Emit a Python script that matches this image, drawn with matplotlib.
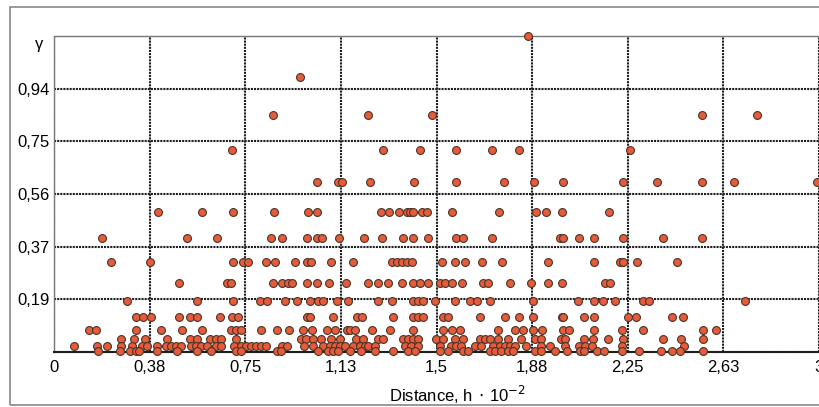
import matplotlib.pyplot as plt
from matplotlib.patches import Rectangle

plt.rcParams['font.family'] = ['Liberation Sans', 'DejaVu Sans']

# semivariance levels (gamma) and distances of the points on each level
lev_1125 = [1.857]
lev_098 = [0.964]
lev_0845 = [0.858, 1.230, 1.481, 2.543, 2.755]
lev_072 = [0.697, 1.289, 1.434, 1.575, 1.716, 1.822, 2.257]
lev_0605 = [1.031, 1.113, 1.129, 1.238, 1.411, 1.575, 1.763, 1.881, 1.995,
            2.230, 2.363, 2.543, 2.665, 2.994]
lev_05 = [0.408, 0.580, 0.701, 0.862, 0.995, 1.031, 1.281, 1.313, 1.352,
          1.383, 1.395, 1.407, 1.442, 1.462, 1.560, 1.744, 1.889, 1.928,
          1.991, 2.175]
lev_0405 = [0.188, 0.521, 0.639, 0.850, 0.893, 0.991, 1.031, 1.050, 1.117,
            1.215, 1.285, 1.368, 1.407, 1.466, 1.575, 1.603, 1.716, 1.983,
            1.995, 2.057, 2.116, 2.230, 2.390, 2.543]
lev_032 = [0.223, 0.376, 0.701, 0.741, 0.760, 0.831, 0.866, 0.944, 0.991,
           1.007, 1.085, 1.172, 1.324, 1.344, 1.364, 1.383, 1.403, 1.520,
           1.571, 1.610, 1.677, 1.755, 1.936, 2.116, 2.218, 2.230, 2.288,
           2.445]
lev_0245 = [0.490, 0.678, 0.694, 0.858, 0.893, 0.917, 0.933, 0.991, 1.031,
            1.078, 1.144, 1.230, 1.270, 1.309, 1.364, 1.407, 1.434, 1.466,
            1.513, 1.532, 1.560, 1.599, 1.681, 1.701, 1.787, 1.869, 1.936,
            1.991, 2.159, 2.179]
lev_018 = [0.286, 0.560, 0.701, 0.807, 0.835, 0.905, 0.952, 1.003, 1.034,
           1.054, 1.109, 1.152, 1.270, 1.324, 1.407, 1.426, 1.446, 1.493,
           1.571, 1.630, 1.658, 1.708, 1.877, 2.053, 2.116, 2.151, 2.198,
           2.308, 2.332, 2.708]
lev_0125 = [0.321, 0.349, 0.380, 0.490, 0.533, 0.560, 0.650, 0.697, 0.721,
            0.991, 1.003, 1.093, 1.187, 1.207, 1.328, 1.407, 1.426, 1.446,
            1.524, 1.544, 1.669, 1.767, 1.822, 1.877, 1.991, 1.995, 2.077,
            2.116, 2.249, 2.284, 2.425, 2.468]
lev_008 = [0.137, 0.165, 0.321, 0.419, 0.502, 0.580, 0.694, 0.713, 0.733,
           0.811, 0.874, 0.921, 0.976, 1.011, 1.070, 1.101, 1.148, 1.160,
           1.179, 1.246, 1.317, 1.407, 1.524, 1.560, 1.591, 1.740, 1.806,
           1.838, 1.877, 1.912, 1.995, 2.018, 2.116, 2.226, 2.308, 2.547,
           2.598]
lev_0045 = [0.263, 0.313, 0.357, 0.443, 0.533, 0.560, 0.611, 0.635, 0.654,
            0.713, 0.968, 0.987, 1.015, 1.046, 1.085, 1.121, 1.183, 1.211,
            1.270, 1.289, 1.368, 1.387, 1.407, 1.426, 1.497, 1.524, 1.571,
            1.603, 1.669, 1.689, 1.708, 1.740, 1.779, 1.830, 1.885, 1.908,
            1.987, 2.002, 2.077, 2.112, 2.171, 2.230, 2.390, 2.457, 2.547]
lev_002 = [0.078, 0.168, 0.208, 0.263, 0.306, 0.345, 0.364, 0.404, 0.439,
           0.458, 0.478, 0.498, 0.537, 0.556, 0.576, 0.600, 0.635, 0.654,
           0.705, 0.733, 0.752, 0.772, 0.792, 0.811, 0.831, 0.893, 0.913,
           0.980, 1.015, 1.054, 1.082, 1.101, 1.121, 1.140, 1.172, 1.199,
           1.219, 1.230, 1.258, 1.375, 1.399, 1.426, 1.513, 1.556, 1.575,
           1.595, 1.650, 1.673, 1.720, 1.748, 1.767, 1.787, 1.806, 1.850,
           1.908, 1.944, 2.002, 2.057, 2.081, 2.108, 2.226, 2.469]
lev_0005 = [0.172, 0.259, 0.298, 0.321, 0.333, 0.404, 0.482, 0.560, 0.615,
            0.713, 0.733, 0.874, 0.889, 1.034, 1.074, 1.093, 1.113, 1.160,
            1.203, 1.258, 1.328, 1.387, 1.415, 1.513, 1.544, 1.603, 1.622,
            1.708, 1.728, 1.752, 1.779, 1.799, 1.885, 1.908, 1.963, 2.010,
            2.061, 2.077, 2.128, 2.155, 2.226, 2.296, 2.382, 2.422, 2.453,
            2.547]

levels = [(1.125, lev_1125), (0.98, lev_098), (0.845, lev_0845),
          (0.72, lev_072), (0.605, lev_0605), (0.5, lev_05),
          (0.405, lev_0405), (0.32, lev_032), (0.245, lev_0245),
          (0.18, lev_018), (0.125, lev_0125), (0.08, lev_008),
          (0.045, lev_0045), (0.02, lev_002), (0.005, lev_0005)]

xticks = [0, 0.375, 0.75, 1.125, 1.5, 1.875, 2.25, 2.625, 3]
xlabels = ['0', '0,38', '0,75', '1,13', '1,5', '1,88', '2,25', '2,63', '3']
yticks = [0.1875, 0.375, 0.5625, 0.75, 0.9375]
ylabels = ['0,19', '0,37', '0,56', '0,75', '0,94']

fig = plt.figure(figsize=(8.19, 4.07), dpi=100)
fig.patches.append(Rectangle((0.012, 0.005), 1.0, 0.978, transform=fig.transFigure,
                             fill=False, edgecolor='#888888', linewidth=1.2))
ax = fig.add_axes([0.066, 0.135, 0.934, 0.777])

xs, ys = [], []
for g, dist in levels:
    xs += dist
    ys += [g] * len(dist)
ax.scatter(xs, ys, s=32, c='#e65c3b', edgecolors='#4a3328', linewidths=0.8,
           zorder=3, clip_on=False)

ax.set_xlim(0, 3)
ax.set_ylim(0, 1.125)
ax.set_xticks(xticks)
ax.set_xticklabels(xlabels)
ax.set_yticks(yticks)
ax.set_yticklabels(ylabels)
ax.tick_params(length=0, labelsize=12)
ax.tick_params(axis='y', pad=3)
ax.tick_params(axis='x', pad=6)
ax.grid(True, color='#1e1e1e', linestyle=(0, (1, 0.5)), linewidth=1.5)
ax.set_axisbelow(True)
for side in ['top', 'left']:
    ax.spines[side].set_color('#777777')
    ax.spines[side].set_linestyle((0, (2, 1)))
    ax.spines[side].set_linewidth(1.0)
ax.spines['bottom'].set_color('#1e1e1e')
ax.spines['bottom'].set_linestyle((0, (1, 0.5)))
ax.spines['bottom'].set_linewidth(1.5)
ax.spines['right'].set_visible(False)

ax.text(-0.014, 0.972, 'γ', transform=ax.transAxes, ha='right', va='center', fontsize=12)
ax.set_xlabel('Distance, h$\\,\\cdot\\,$10$^{-2}$', fontsize=12)
ax.xaxis.set_label_coords(0.528, -0.10)

fig.savefig('out.png', dpi=100)
